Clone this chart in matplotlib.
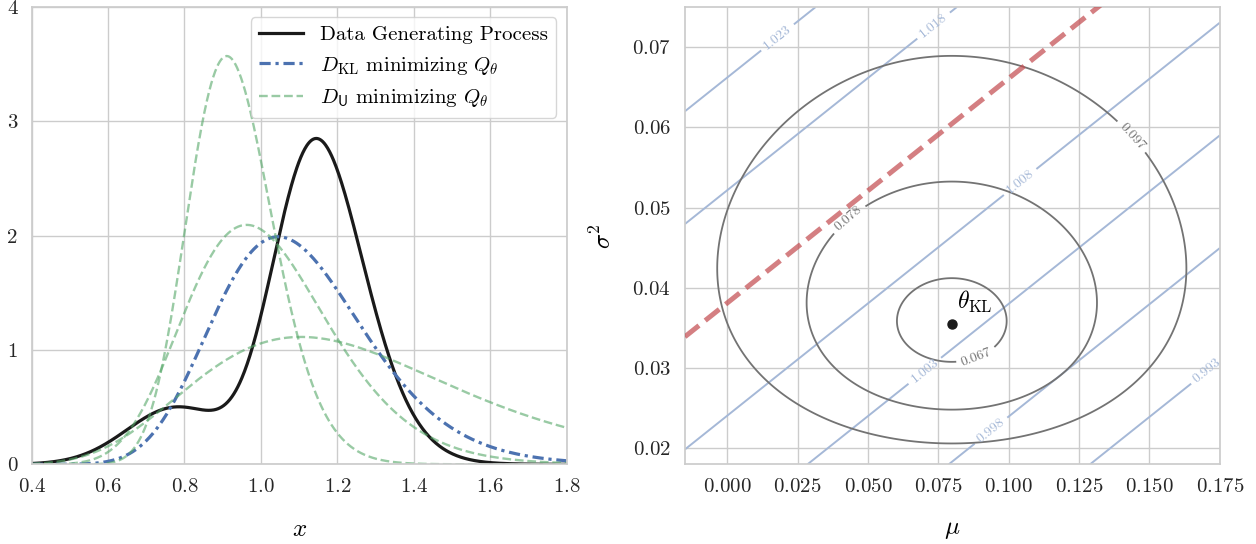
import numpy as np
import matplotlib.pyplot as plt
from matplotlib.ticker import MultipleLocator

plt.rcParams['font.family'] = 'serif'
plt.rcParams['font.serif'] = ['cmr10']
plt.rcParams['mathtext.fontset'] = 'cm'
plt.rcParams['axes.formatter.use_mathtext'] = True
plt.rcParams['axes.axisbelow'] = True

# ---- left panel: densities (parameters) ----
x_lim = (0.4, 1.8)
y_lim = (0, 4)
dgp_bump = (0.163, 0.78, 0.13)      # weight, mean, std  (shoulder)
dgp_peak = (0.845, 0.1469, 0.103)   # weight, log-mean, log-sd (main peak)
theta_kl = (0.0798, 0.03548)        # (mu, sigma^2) of the KL minimizer
theta_u = [(-0.0789, 0.01483), (-0.0002, 0.0377), (0.195, 0.0955)]

# ---- right panel: divergence surfaces ----
mu_lim = (-0.015, 0.175)
s2_lim = (0.018, 0.075)
kl_min = 0.0651
kl_scale = 0.357
kl_levels = [0.067, 0.078, 0.097]
kl_label_pos = [(0.0887, 0.03121), (0.0431, 0.04864), (0.1449, 0.05923)]
du_slope = 0.28            # slope of the D_U level lines
du_red = (1.013, 0.0381)   # level and sigma^2 intercept of the red line
du_gain = 0.3559
du_levels = [0.993, 0.998, 1.003, 1.008, 1.018, 1.023]
du_label_pos = [(0.1709, 0.02954), (0.0940, 0.02207), (0.07093, 0.02934),
                (0.10405, 0.0532), (0.07327, 0.07271), (0.01825, 0.07106)]

grid_col = '#cccccc'
blue = '#4C72B0'
green = '#55A868'
red = '#C44E52'


def lognorm_pdf(x, m, s2):
    return np.exp(-(np.log(x) - m) ** 2 / (2 * s2)) / (x * np.sqrt(2 * np.pi * s2))


def norm_pdf(x, m, s):
    return np.exp(-(x - m) ** 2 / (2 * s ** 2)) / (s * np.sqrt(2 * np.pi))


def style(ax):
    ax.grid(True, color=grid_col, lw=1)
    for sp in ax.spines.values():
        sp.set_color(grid_col)
        sp.set_linewidth(1.25)
    ax.tick_params(length=0, pad=10, labelsize=15, colors='#262626')


fig = plt.figure(figsize=(12.56, 5.44), dpi=100)
ax1 = fig.add_axes([0.0252, 0.1465, 0.4259, 0.8406])
ax2 = fig.add_axes([0.5453, 0.1465, 0.4259, 0.8406])

xs = np.linspace(x_lim[0], x_lim[1], 800)
dgp = dgp_bump[0] * norm_pdf(xs, dgp_bump[1], dgp_bump[2]) \
    + dgp_peak[0] * lognorm_pdf(xs, dgp_peak[1], dgp_peak[2] ** 2)
ax1.plot(xs, dgp, color='#1a1a1a', lw=2.3, label='Data Generating Process')
ax1.plot(xs, lognorm_pdf(xs, *theta_kl), color=blue, lw=2.3,
         dashes=(3.5, 1.5, 1, 1.5), label=r'$D_{\mathrm{KL}}$ minimizing $Q_\theta$')
for i, (m, s2) in enumerate(theta_u):
    ax1.plot(xs, lognorm_pdf(xs, m, s2), '--', color=green, alpha=0.6, lw=1.7,
             label=r'$D_{\mathsf{U}}$ minimizing $Q_\theta$' if i == 0 else None)
ax1.set_xlim(*x_lim)
ax1.set_ylim(*y_lim)
ax1.yaxis.set_major_locator(MultipleLocator(1))
ax1.yaxis.set_major_formatter(lambda val, pos: '%d' % val)
ax1.set_xlabel(r'$x$', fontsize=18, labelpad=16)
style(ax1)
leg = ax1.legend(loc='upper right', fontsize=15, frameon=True, handlelength=2.1)
leg.get_frame().set_edgecolor(grid_col)

ax2.set_xlim(*mu_lim)
ax2.set_ylim(*s2_lim)

mu = np.linspace(mu_lim[0], mu_lim[1], 500)
s2 = np.linspace(s2_lim[0], s2_lim[1], 500)
M, S = np.meshgrid(mu, s2)
m1, v = theta_kl
kl = kl_min + kl_scale * 0.5 * (np.log(S / v) + (v + (M - m1) ** 2) / S - 1)
du = du_red[0] + du_gain * (S - du_slope * M - du_red[1])

cs_u = ax2.contour(M, S, du, levels=du_levels, colors='#a5b8d7', linewidths=1.4)
ax2.clabel(cs_u, fmt='%.3f', fontsize=10, manual=du_label_pos, inline=True)
cs_k = ax2.contour(M, S, kl, levels=kl_levels, colors='#737373', linewidths=1.3)
ax2.clabel(cs_k, fmt='%.3f', fontsize=10, manual=kl_label_pos, inline=True)

mu_line = np.array(mu_lim)
ax2.plot(mu_line, du_red[1] + du_slope * mu_line, color=red, alpha=0.72, lw=3.6,
         dashes=(3.6, 1.6), zorder=4)
ax2.plot([m1], [v], 'o', color='#1a1a1a', ms=6.5, zorder=5)
ax2.text(m1 + 0.0017, v + 0.0019, r'$\theta_{\mathrm{KL}}$', fontsize=17)

ax2.set_xlim(*mu_lim)
ax2.set_ylim(*s2_lim)
ax2.xaxis.set_major_locator(MultipleLocator(0.025))
ax2.yaxis.set_major_locator(MultipleLocator(0.01))
ax2.set_xlabel(r'$\mu$', fontsize=18, labelpad=16)
ax2.set_ylabel(r'$\sigma^2$', fontsize=18, labelpad=12)
style(ax2)

fig.savefig('out.png', dpi=100)
